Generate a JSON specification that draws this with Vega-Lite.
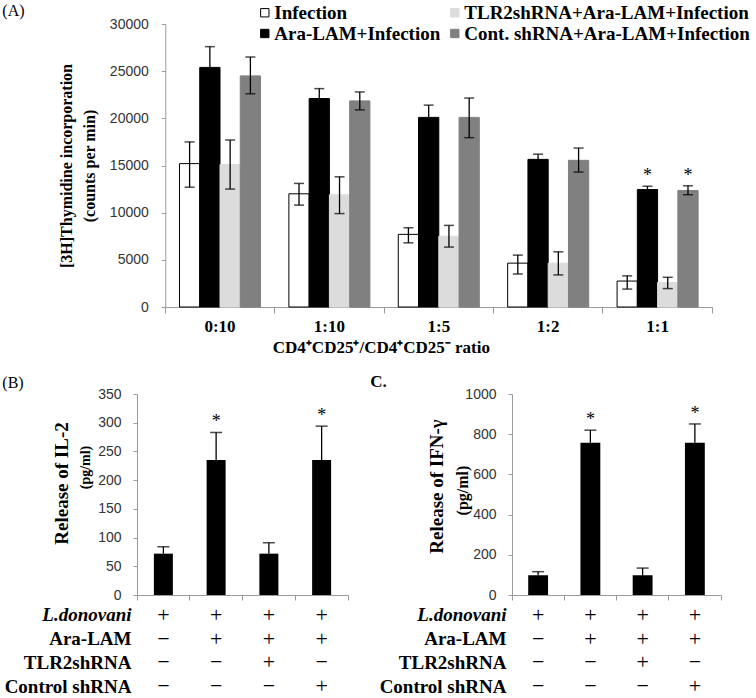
{
  "$schema": "https://vega.github.io/schema/vega-lite/v6.json",
  "padding": {"left": 2, "top": 3, "right": 2, "bottom": 0},
  "background": "white",
  "config": {
    "view": {"stroke": null},
    "axis": {"domainColor": "#9a9a9a", "tickColor": "#9a9a9a", "labelFont": "Liberation Sans", "labelFontSize": 14, "labelColor": "#333333", "titleFont": "Liberation Serif", "titleFontWeight": "bold", "titleColor": "black", "grid": false},
    "legend": {"labelFont": "Liberation Serif", "labelFontWeight": "bold", "labelFontSize": 19, "labelColor": "black", "labelLimit": 400,
      "symbolType": "square", "symbolSize": 70, "symbolStrokeWidth": 1, "labelOffset": 0, "columnPadding": 5, "rowPadding": 1},
    "title": {"font": "Liberation Serif", "fontWeight": "normal", "fontSize": 16, "color": "black", "anchor": "start", "frame": "group"}
  },
  "datasets": {
    "prolif": [
      {"ratio": "0:10", "group": "Infection", "value": 15200, "lo": 12700, "hi": 17500, "star": ""},
      {"ratio": "0:10", "group": "Ara-LAM+Infection", "value": 25400, "lo": 23200, "hi": 27600, "star": ""},
      {"ratio": "0:10", "group": "TLR2shRNA+Ara-LAM+Infection", "value": 15100, "lo": 12500, "hi": 17700, "star": ""},
      {"ratio": "0:10", "group": "Cont. shRNA+Ara-LAM+Infection", "value": 24500, "lo": 22600, "hi": 26500, "star": ""},
      {"ratio": "1:10", "group": "Infection", "value": 12000, "lo": 10800, "hi": 13100, "star": ""},
      {"ratio": "1:10", "group": "Ara-LAM+Infection", "value": 22100, "lo": 21000, "hi": 23150, "star": ""},
      {"ratio": "1:10", "group": "TLR2shRNA+Ara-LAM+Infection", "value": 11900, "lo": 9900, "hi": 13800, "star": ""},
      {"ratio": "1:10", "group": "Cont. shRNA+Ara-LAM+Infection", "value": 21850, "lo": 20900, "hi": 22800, "star": ""},
      {"ratio": "1:5", "group": "Infection", "value": 7700, "lo": 6800, "hi": 8400, "star": ""},
      {"ratio": "1:5", "group": "Ara-LAM+Infection", "value": 20100, "lo": 18800, "hi": 21400, "star": ""},
      {"ratio": "1:5", "group": "TLR2shRNA+Ara-LAM+Infection", "value": 7500, "lo": 6350, "hi": 8650, "star": ""},
      {"ratio": "1:5", "group": "Cont. shRNA+Ara-LAM+Infection", "value": 20100, "lo": 17950, "hi": 22150, "star": ""},
      {"ratio": "1:2", "group": "Infection", "value": 4650, "lo": 3500, "hi": 5500, "star": ""},
      {"ratio": "1:2", "group": "Ara-LAM+Infection", "value": 15650, "lo": 15100, "hi": 16200, "star": ""},
      {"ratio": "1:2", "group": "TLR2shRNA+Ara-LAM+Infection", "value": 4650, "lo": 3400, "hi": 5850, "star": ""},
      {"ratio": "1:2", "group": "Cont. shRNA+Ara-LAM+Infection", "value": 15550, "lo": 14300, "hi": 16850, "star": ""},
      {"ratio": "1:1", "group": "Infection", "value": 2750, "lo": 1900, "hi": 3300, "star": ""},
      {"ratio": "1:1", "group": "Ara-LAM+Infection", "value": 12450, "lo": 12100, "hi": 12800, "star": "*"},
      {"ratio": "1:1", "group": "TLR2shRNA+Ara-LAM+Infection", "value": 2600, "lo": 1950, "hi": 3150, "star": ""},
      {"ratio": "1:1", "group": "Cont. shRNA+Ara-LAM+Infection", "value": 12350, "lo": 11900, "hi": 12850, "star": "*"}
    ],
    "il2": [
      {"cond": 1, "value": 72, "hi": 84, "star": ""},
      {"cond": 2, "value": 235, "hi": 283, "star": "*"},
      {"cond": 3, "value": 72, "hi": 91, "star": ""},
      {"cond": 4, "value": 235, "hi": 294, "star": "*"}
    ],
    "ifn": [
      {"cond": 1, "value": 98, "hi": 116, "star": ""},
      {"cond": 2, "value": 757, "hi": 820, "star": "*"},
      {"cond": 3, "value": 98, "hi": 134, "star": ""},
      {"cond": 4, "value": 757, "hi": 851, "star": "*"}
    ],
    "table": [
      {"row": "L.donovani", "cond": 1, "sym": "+"},
      {"row": "L.donovani", "cond": 2, "sym": "+"},
      {"row": "L.donovani", "cond": 3, "sym": "+"},
      {"row": "L.donovani", "cond": 4, "sym": "+"},
      {"row": "Ara-LAM", "cond": 1, "sym": "−"},
      {"row": "Ara-LAM", "cond": 2, "sym": "+"},
      {"row": "Ara-LAM", "cond": 3, "sym": "+"},
      {"row": "Ara-LAM", "cond": 4, "sym": "+"},
      {"row": "TLR2shRNA", "cond": 1, "sym": "−"},
      {"row": "TLR2shRNA", "cond": 2, "sym": "−"},
      {"row": "TLR2shRNA", "cond": 3, "sym": "+"},
      {"row": "TLR2shRNA", "cond": 4, "sym": "−"},
      {"row": "Control shRNA", "cond": 1, "sym": "−"},
      {"row": "Control shRNA", "cond": 2, "sym": "−"},
      {"row": "Control shRNA", "cond": 3, "sym": "−"},
      {"row": "Control shRNA", "cond": 4, "sym": "+"}
    ]
  },
  "spacing": 18,
  "vconcat": [
    {
      "width": 575.3,
      "height": 283,
      "title": {"text": "(A)", "dx": -134.7, "offset": -2},
      "data": {"name": "prolif"},
      "encoding": {
        "x": {"field": "ratio", "type": "nominal", "sort": ["0:10", "1:10", "1:5", "1:2", "1:1"],
          "scale": {"paddingInner": 0, "paddingOuter": 0, "range": [28.3, 575.3]},
          "axis": {"title": "CD4⁺CD25⁺/CD4⁺CD25⁻  ratio", "titleFontSize": 17, "titleAnchor": "start", "titleAlign": "left", "titleX": 135.3, "titlePadding": 5,
            "labelAngle": 0, "labelFont": "Liberation Serif", "labelFontWeight": "bold", "labelFontSize": 17, "labelColor": "black",
            "bandPosition": 1, "tickExtra": true, "tickSize": 6, "labelPadding": 5}},
        "xOffset": {"field": "group", "type": "nominal",
          "sort": ["Infection", "Ara-LAM+Infection", "TLR2shRNA+Ara-LAM+Infection", "Cont. shRNA+Ara-LAM+Infection"],
          "scale": {"paddingInner": 0, "paddingOuter": 0.7}}
      },
      "layer": [
        {
          "mark": {"type": "bar", "strokeWidth": 1},
          "encoding": {
            "y": {"field": "value", "type": "quantitative", "scale": {"domain": [0, 30000], "nice": false},
              "axis": {"values": [0, 5000, 10000, 15000, 20000, 25000, 30000], "format": "d", "offset": -28.3,
                "title": ["[3H]Thymidine incorporation", "(counts per min)"], "titleFontSize": 16, "titleLineHeight": 23,
                "titleX": -91, "tickSize": 4, "labelPadding": 13}},
            "fill": {"field": "group", "type": "nominal",
              "scale": {"domain": ["Infection", "Ara-LAM+Infection", "TLR2shRNA+Ara-LAM+Infection", "Cont. shRNA+Ara-LAM+Infection"],
                "range": ["#ffffff", "#000000", "#dcdcdc", "#808080"]},
              "legend": {"title": null, "orient": "none", "legendX": 118.3, "legendY": -21, "columns": 2}},
            "stroke": {"field": "group", "type": "nominal",
              "scale": {"domain": ["Infection", "Ara-LAM+Infection", "TLR2shRNA+Ara-LAM+Infection", "Cont. shRNA+Ara-LAM+Infection"],
                "range": ["#000000", "#000000", "#dcdcdc", "#808080"]},
              "legend": {"title": null, "orient": "none", "legendX": 118.3, "legendY": -21, "columns": 2}}
          }
        },
        {
          "mark": {"type": "rule", "color": "black", "strokeWidth": 1.3},
          "encoding": {"y": {"field": "lo", "type": "quantitative"}, "y2": {"field": "hi"}}
        },
        {
          "mark": {"type": "tick", "color": "black", "size": 10, "thickness": 1.5},
          "encoding": {"y": {"field": "lo", "type": "quantitative"}}
        },
        {
          "mark": {"type": "tick", "color": "black", "size": 10, "thickness": 1.5},
          "encoding": {"y": {"field": "hi", "type": "quantitative"}}
        },
        {
          "mark": {"type": "text", "font": "Liberation Serif", "fontSize": 18, "baseline": "alphabetic", "dy": -5, "color": "black"},
          "encoding": {"y": {"field": "hi", "type": "quantitative"}, "text": {"field": "star"}}
        }
      ]
    },
    {
      "hconcat": [
        {
          "vconcat": [
            {
              "width": 211,
              "height": 201,
              "title": {"text": "(B)", "dx": -134.7, "offset": -4},
              "data": {"name": "il2"},
              "encoding": {
                "x": {"field": "cond", "type": "ordinal", "scale": {"paddingInner": 0, "paddingOuter": 0},
                  "axis": {"labels": false, "title": null, "bandPosition": 1, "tickExtra": true, "tickSize": 5}}
              },
              "layer": [
                {
                  "mark": {"type": "bar", "color": "black", "width": {"band": 0.36}},
                  "encoding": {"y": {"field": "value", "type": "quantitative", "scale": {"domain": [0, 350], "nice": false},
                    "axis": {"values": [0, 50, 100, 150, 200, 250, 300, 350], "title": "(pg/ml)", "titleFontSize": 14,
                      "titleX": -45, "titleY": 73, "tickSize": 4, "labelPadding": 12}}}
                },
                {
                  "mark": {"type": "rule", "color": "black", "strokeWidth": 1.3},
                  "encoding": {"y": {"field": "value", "type": "quantitative",
                    "axis": {"orient": "left", "title": "Release of IL-2", "titleFontSize": 19, "labels": false, "ticks": false, "domain": false, "minExtent": 0,
                      "titleX": -65.7, "titleY": 89}}, "y2": {"field": "hi"}}
                },
                {
                  "mark": {"type": "tick", "color": "black", "size": 12, "thickness": 1.5},
                  "encoding": {"y": {"field": "hi", "type": "quantitative", "axis": null}}
                },
                {
                  "mark": {"type": "text", "font": "Liberation Serif", "fontSize": 18, "baseline": "alphabetic", "dy": -5, "color": "black"},
                  "encoding": {"y": {"field": "hi", "type": "quantitative", "axis": null}, "text": {"field": "star"}}
                }
              ],
              "resolve": {"axis": {"y": "independent"}}
            },
            {
              "width": 211,
              "height": 95,
              "data": {"name": "table"},
              "mark": {"type": "text", "font": "Liberation Serif", "fontSize": 22, "color": "black"},
              "encoding": {
                "x": {"field": "cond", "type": "ordinal", "scale": {"paddingInner": 0, "paddingOuter": 0}, "axis": null},
                "y": {"field": "row", "type": "nominal", "sort": ["L.donovani", "Ara-LAM", "TLR2shRNA", "Control shRNA"],
                  "scale": {"paddingInner": 0, "paddingOuter": 0},
                  "axis": {"title": null, "domain": false, "ticks": false, "labelFont": "Liberation Serif", "labelFontWeight": "bold",
                    "labelFontSize": 19, "labelColor": "black", "labelPadding": 6, "labelLimit": 300,
                    "labelFontStyle": {"condition": {"test": "datum.value === 'L.donovani'", "value": "italic"}, "value": "normal"}}},
                "text": {"field": "sym"}
              }
            }
          ],
          "spacing": 8,
          "bounds": "flush"
        },
        {
          "vconcat": [
            {
              "width": 209,
              "height": 201,
              "title": {"text": "C.", "dx": -141.7, "offset": -4, "fontWeight": "bold", "fontSize": 17},
              "data": {"name": "ifn"},
              "encoding": {
                "x": {"field": "cond", "type": "ordinal", "scale": {"paddingInner": 0, "paddingOuter": 0},
                  "axis": {"labels": false, "title": null, "bandPosition": 1, "tickExtra": true, "tickSize": 5}}
              },
              "layer": [
                {
                  "mark": {"type": "bar", "color": "black", "width": {"band": 0.38}},
                  "encoding": {"y": {"field": "value", "type": "quantitative", "scale": {"domain": [0, 1000], "nice": false},
                    "axis": {"values": [0, 200, 400, 600, 800, 1000], "format": "d", "title": "(pg/ml)", "titleFontSize": 16,
                      "titleX": -41.7, "titleY": 96, "tickSize": 4, "labelPadding": 12}}}
                },
                {
                  "mark": {"type": "rule", "color": "black", "strokeWidth": 1.3},
                  "encoding": {"y": {"field": "value", "type": "quantitative",
                    "axis": {"orient": "left", "title": "Release of IFN-γ", "titleFontSize": 19, "labels": false, "ticks": false, "domain": false, "minExtent": 0,
                      "titleX": -65.7, "titleY": 92}}, "y2": {"field": "hi"}}
                },
                {
                  "mark": {"type": "tick", "color": "black", "size": 12, "thickness": 1.5},
                  "encoding": {"y": {"field": "hi", "type": "quantitative", "axis": null}}
                },
                {
                  "mark": {"type": "text", "font": "Liberation Serif", "fontSize": 18, "baseline": "alphabetic", "dy": -5, "color": "black"},
                  "encoding": {"y": {"field": "hi", "type": "quantitative", "axis": null}, "text": {"field": "star"}}
                }
              ],
              "resolve": {"axis": {"y": "independent"}}
            },
            {
              "width": 209,
              "height": 95,
              "data": {"name": "table"},
              "mark": {"type": "text", "font": "Liberation Serif", "fontSize": 22, "color": "black"},
              "encoding": {
                "x": {"field": "cond", "type": "ordinal", "scale": {"paddingInner": 0, "paddingOuter": 0}, "axis": null},
                "y": {"field": "row", "type": "nominal", "sort": ["L.donovani", "Ara-LAM", "TLR2shRNA", "Control shRNA"],
                  "scale": {"paddingInner": 0, "paddingOuter": 0},
                  "axis": {"title": null, "domain": false, "ticks": false, "labelFont": "Liberation Serif", "labelFontWeight": "bold",
                    "labelFontSize": 19, "labelColor": "black", "labelPadding": 6, "labelLimit": 300,
                    "labelFontStyle": {"condition": {"test": "datum.value === 'L.donovani'", "value": "italic"}, "value": "normal"}}},
                "text": {"field": "sym"}
              }
            }
          ],
          "spacing": 8,
          "bounds": "flush"
        }
      ],
      "spacing": 21
    }
  ]
}
